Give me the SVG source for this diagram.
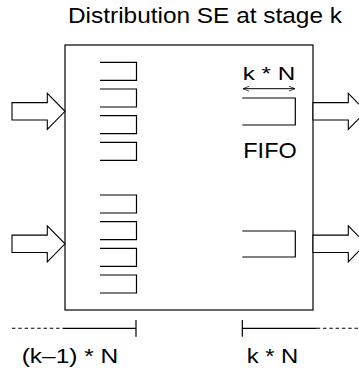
<svg xmlns="http://www.w3.org/2000/svg" width="359" height="372" viewBox="0 0 359 372">
<defs>
<style>
.ln{fill:none;stroke:#000;stroke-width:1.2}
.ar{fill:#fff;stroke:#000;stroke-width:1.1;stroke-linejoin:miter}
.tx{font-family:"Liberation Sans",Arial,Helvetica,sans-serif;fill:#000}
.ds{fill:none;stroke:#000;stroke-width:1.1;stroke-dasharray:3.5 2.8}
</style>
<marker id="ah" viewBox="0 0 10 10" refX="10" refY="5" markerWidth="8" markerHeight="6" orient="auto-start-reverse" markerUnits="userSpaceOnUse">
<path d="M0,1 L10,5 L0,9" fill="none" stroke="#000" stroke-width="1.2"/>
</marker>
</defs>
<rect width="359" height="372" fill="#fff"/>
<text class="tx" x="68" y="22.7" font-size="22" textLength="274" lengthAdjust="spacingAndGlyphs">Distribution SE at stage k</text>
<g id="se">
<rect class="ln" x="65" y="45" width="248" height="265"/>
</g>
<g id="input-queues-top">
<path class="ln" d="M100,62.3H136.5V80.3H100M100,89H136.5V107H100M100,115.6H136.5V133.6H100M100,142.3H136.5V160.3H100"/>
</g>
<g id="input-queues-bottom">
<path class="ln" d="M100,195H136.5V213H100M100,221.7H136.5V239.7H100M100,248.3H136.5V266.3H100M100,275H136.5V293H100"/>
</g>
<g id="fifo-top">
<path class="ln" d="M242.3,98H295.3V125H242.3"/>
<text class="tx" x="242.7" y="80" font-size="19" textLength="52.5" lengthAdjust="spacingAndGlyphs">k * N</text>
<text class="tx" x="243.3" y="158.3" font-size="22" textLength="53.4" lengthAdjust="spacingAndGlyphs">FIFO</text>
</g>
<g id="fifo-bottom">
<path class="ln" d="M242.3,231H295.3V257H242.3"/>
</g>
<g id="connectors">
<line x1="243" y1="88.7" x2="295" y2="88.7" stroke="#000" stroke-width="1" marker-start="url(#ah)" marker-end="url(#ah)"/>
<polygon class="ar" points="12,102.6 47.3,102.6 47.3,93.3 65,111.3 47.3,129.3 47.3,120 12,120"/>
<polygon class="ar" points="12,235.1 47.3,235.1 47.3,225.8 65,243.8 47.3,261.8 47.3,252.5 12,252.5"/>
<polygon class="ar" points="313,102.6 348.3,102.6 348.3,93.3 366,111.3 348.3,129.3 348.3,120 313,120"/>
<polygon class="ar" points="313,235.1 348.3,235.1 348.3,225.8 366,243.8 348.3,261.8 348.3,252.5 313,252.5"/>
</g>
<g id="scale-left">
<line class="ds" x1="12" y1="328.3" x2="63" y2="328.3"/>
<line class="ln" x1="63" y1="328.3" x2="136" y2="328.3"/>
<line class="ln" x1="136" y1="320" x2="136" y2="336.7"/>
<text class="tx" x="21.7" y="363.3" font-size="21" textLength="96.6" lengthAdjust="spacingAndGlyphs">(k–1) * N</text>
</g>
<g id="scale-right">
<line class="ln" x1="242.3" y1="320" x2="242.3" y2="336.7"/>
<line class="ln" x1="242.3" y1="328.3" x2="316.7" y2="328.3"/>
<line class="ds" x1="316.7" y1="328.3" x2="359" y2="328.3"/>
<text class="tx" x="246.7" y="363.3" font-size="21" textLength="51.6" lengthAdjust="spacingAndGlyphs">k * N</text>
</g>
</svg>
